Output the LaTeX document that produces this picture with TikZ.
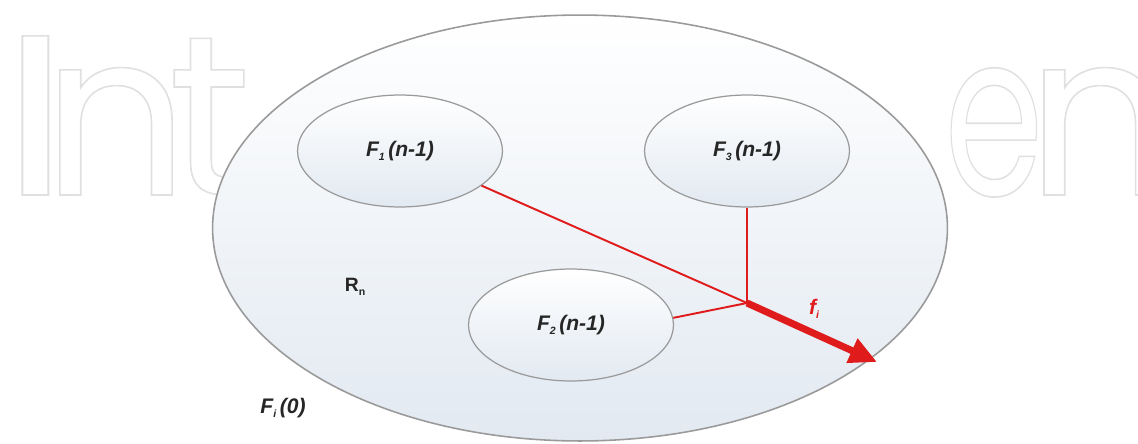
\documentclass[tikz,border=0pt]{standalone}
\usepackage{fontspec}
\setmainfont{Liberation Sans}
\newfontfamily\wmfont{Poppins}
\usetikzlibrary{arrows.meta,shapes.geometric}
\definecolor{ellbot}{HTML}{E2E9F1}
\definecolor{edgegray}{HTML}{9A9A9A}
\definecolor{fred}{HTML}{E01B1B}
\definecolor{wmgray}{HTML}{E0E0E0}
\newcommand\outl[1]{\special{pdf:literal direct 1 Tr 0.9 w}#1\special{pdf:literal direct 0 Tr}}
\newcommand\lsub[1]{\raisebox{-0.4ex}{\fontsize{6}{6}\selectfont #1}}
\begin{document}
\begin{tikzpicture}[x=0.02cm,y=-0.02cm,
  subell/.style={ellipse, draw=edgegray, line width=0.7pt, top color=white, bottom color=ellbot,
    minimum width=4.1cm, minimum height=2.24cm, inner sep=0pt,
    font=\bfseries\itshape\fontsize{12}{14}\selectfont, text=black!85},
  lbl/.style={font=\bfseries\fontsize{12}{14}\selectfont, text=black!85, inner sep=0pt},
  wm/.style={anchor=base west, text=wmgray, font=\wmfont\fontsize{130}{130}\selectfont, inner sep=0pt, transform shape},
  thinred/.style={draw=fred, line width=1.1pt},
]
\useasboundingbox (0,0) rectangle (1138,443);
\fill[white] (0,0) rectangle (1138,443);
% watermark
\node[wm, xscale=1.25] (wmI) at (0,195) {\outl{I}};
\node[wm] (wmn) at (42,195) {\outl{n}};
\node[wm] (wmt) at (168,195) {\outl{t}};
\node[wm, xscale=0.7] (wme) at (944,195) {\outl{e}};
\node[wm] (wmn2) at (1026,195) {\outl{n}};
% outer region
\path[draw=edgegray, line width=0.9pt, top color=white, bottom color=ellbot]
  (580,228) ellipse [x radius=7.35cm, y radius=4.26cm];
% inner regions
\node[subell] (F1) at (400,151) {F\lsub{1}\,(n-1)};
\node[subell] (F3) at (747,151) {F\lsub{3}\,(n-1)};
\node[subell] (F2) at (571,325) {F\lsub{2}\,(n-1)};
\coordinate (J) at (747,303);
\coordinate (T) at (877,362);
\draw[thinred] (F1.-23) -- (J);
\draw[thinred] (F3.south) -- (J);
\draw[thinred] (F2.4) -- (J);
\draw[fred, line width=4pt, -{Triangle[length=0.55cm,width=0.5cm]}] (J) -- (T);
\node[lbl, text=fred, font=\bfseries\itshape\fontsize{12}{14}\selectfont] (fi) at (814,309) {f\lsub{i}};
\node[lbl, font=\bfseries\fontsize{11}{13}\selectfont] (Rn) at (355,287) {R\lsub{n}};
\node[lbl, font=\bfseries\itshape\fontsize{12}{14}\selectfont] (Fi0) at (283,408) {F\lsub{i}\,(0)};
\end{tikzpicture}
\end{document}
